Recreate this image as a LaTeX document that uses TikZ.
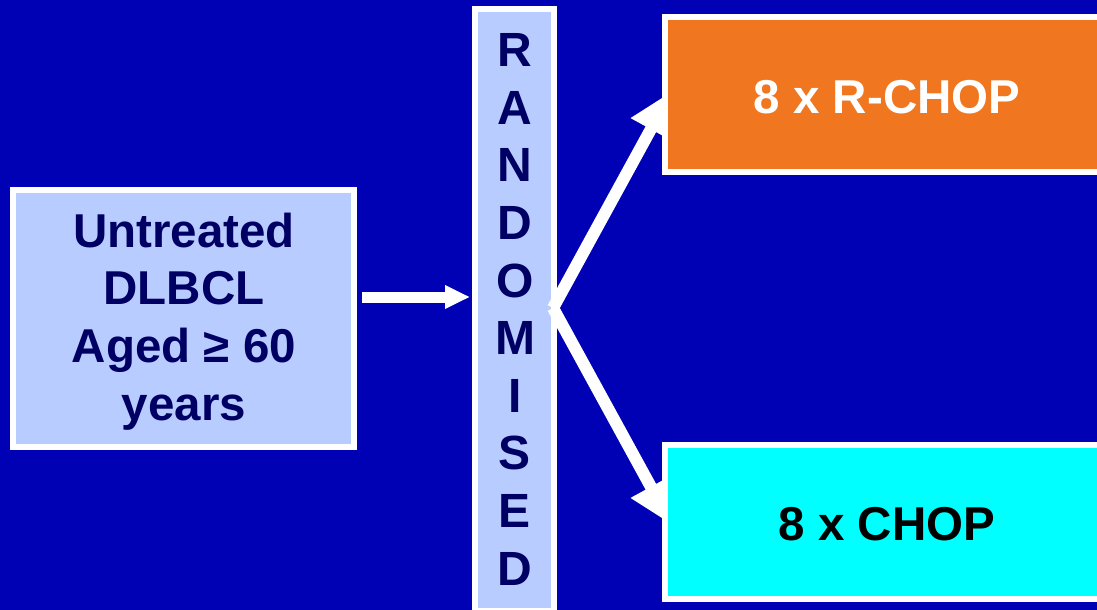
\documentclass[tikz,border=0pt]{standalone}
\usepackage{fontspec}
\setmainfont{Liberation Sans}
\usetikzlibrary{arrows.meta}
\definecolor{bg}{RGB}{0,0,180}
\definecolor{lightfill}{RGB}{184,204,255}
\definecolor{navy}{RGB}{0,0,100}
\definecolor{orangefill}{RGB}{240,118,32}
\definecolor{cyanfill}{RGB}{0,255,255}
\tikzset{
  wbox/.style={draw=white, line width=6pt, rectangle, inner sep=0pt},
  bigtext/.style={font=\fontsize{47.5}{57.7}\selectfont\bfseries, inner sep=0pt, anchor=base},
  lettertext/.style={font=\fontsize{48}{57.6}\selectfont\bfseries, inner sep=0pt, anchor=base, text=navy},
  harrow/.style={white, line width=11pt, -{Triangle[length=25pt,width=22pt]}},
  darrow/.style={white, line width=12pt, -{Triangle[length=43pt,width=43pt]}}
}
\begin{document}
\begin{tikzpicture}[x=1pt,y=-1pt]
\useasboundingbox (0,0) rectangle (1097,610);
\clip (0,0) rectangle (1097,610);
\fill[bg] (0,0) rectangle (1097,610);

% left box
\node[wbox, fill=lightfill, minimum width=341pt, minimum height=257pt] (pop) at (183.5,318.5) {};
\node[bigtext, text=navy] (l1) at (184,247) {Untreated};
\node[bigtext, text=navy] (l2) at (184,304.7) {DLBCL};
\node[bigtext, text=navy] (l3) at (184,362.4) {Aged {\fontspec{Liberation Sans}≥} 60};
\node[bigtext, text=navy] (l4) at (184,420.1) {years};

% randomised box
\node[wbox, fill=lightfill, minimum width=79pt, minimum height=602pt] (rand) at (514.5,310) {};
\foreach \ch [count=\i from 0] in {R,A,N,D,O,M,I,S,E,D} {
  \node[lettertext] (r\i) at (515,66.7+57.6*\i) {\ch};
}

% connectors
\coordinate (hs) at (362,297);
\coordinate (ht) at (470,297);
\draw[harrow] (hs) -- (ht);
\coordinate (split) at (553,308);
\coordinate (t1) at (671.5,91.5);
\coordinate (t2) at (671.5,524.5);
\draw[darrow] (split) -- (t1);
\draw[darrow] (split) -- (t2);

% right boxes
\node[wbox, fill=orangefill, minimum width=460pt, minimum height=155pt] (rchop) at (895,94.5) {};
\node[bigtext, text=white] (rchopt) at (887,113.5) {8 x R-CHOP};
\node[wbox, fill=cyanfill, minimum width=460pt, minimum height=154pt] (chop) at (895,522) {};
\node[bigtext, text=black] (chopt) at (887,540) {8 x CHOP};
\end{tikzpicture}
\end{document}
